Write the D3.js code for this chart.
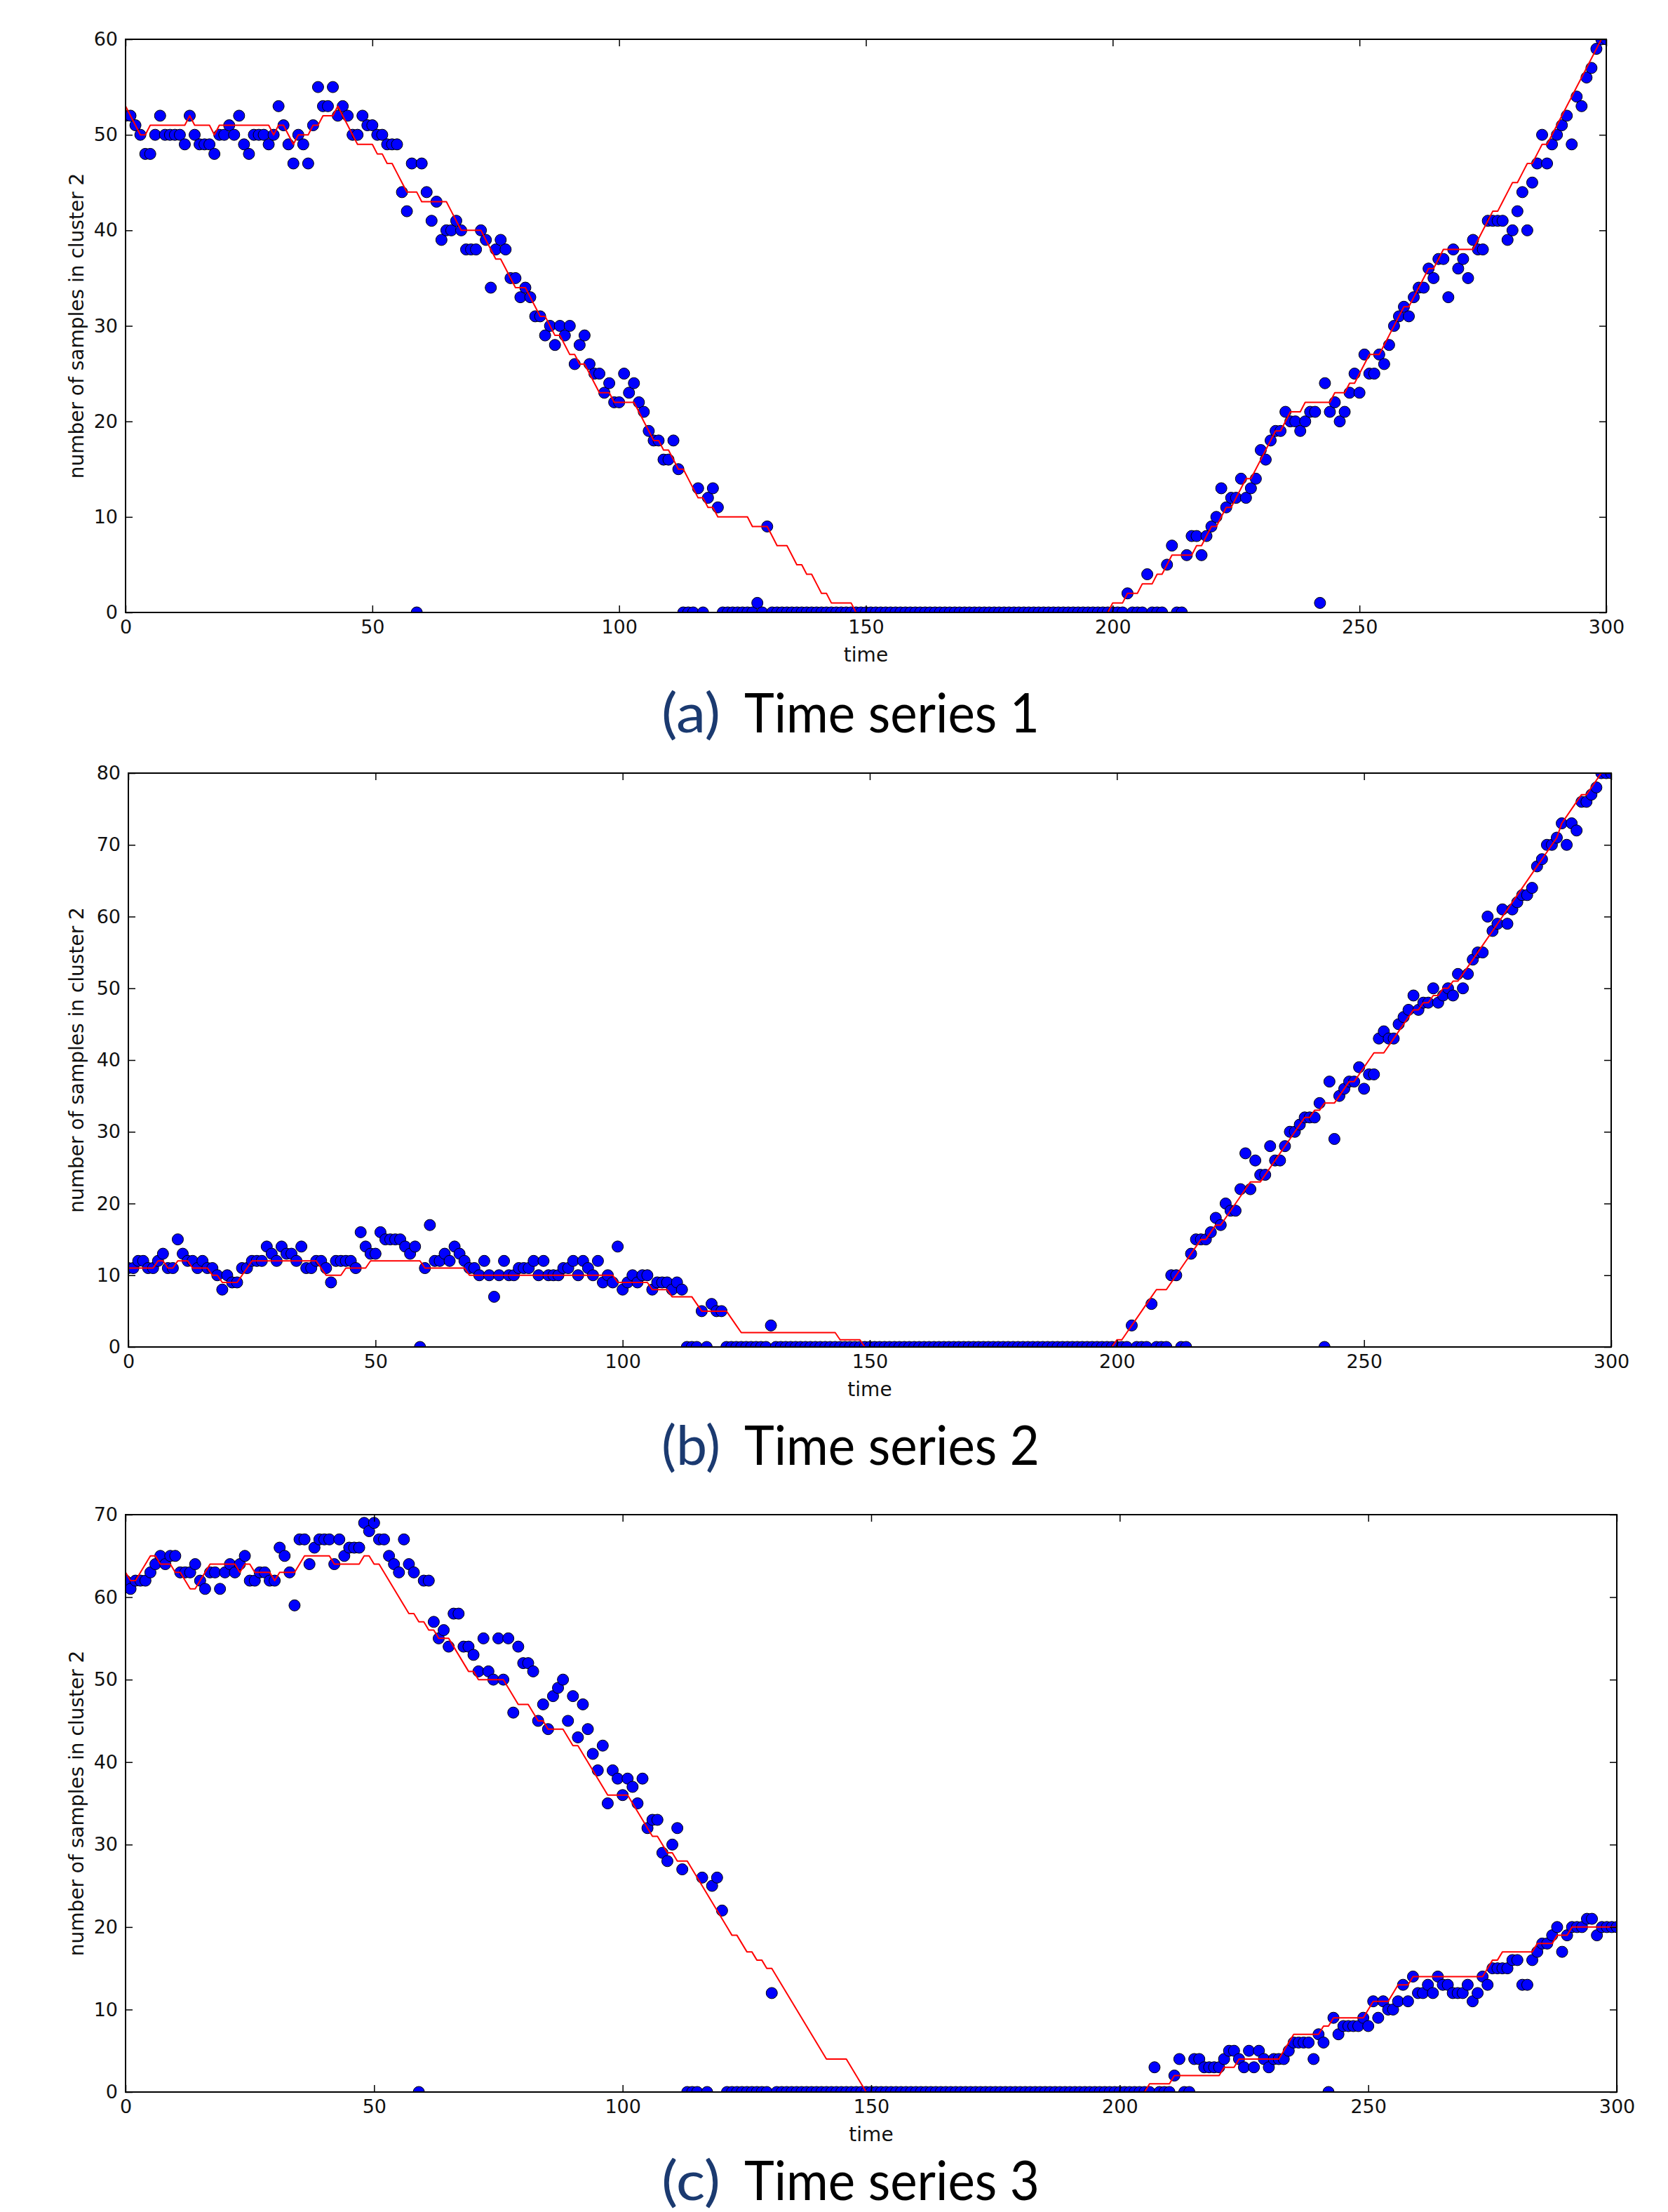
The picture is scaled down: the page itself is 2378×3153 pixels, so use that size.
<!DOCTYPE html>
<html>
<head>
<meta charset="utf-8">
<script src="https://cdnjs.cloudflare.com/ajax/libs/d3/7.8.5/d3.min.js"></script>
<style>
body { margin: 0; background: #fff; }
</style>
</head>
<body>
<div id="chart"></div>
<script>
// number of samples in cluster 2, one value per time step (0..300)
let counts1 = [
  52,52,51,50,48,48,50,52,50,50, 50,50,49,52,50,49,49,49,48,50,
  50,51,50,52,49,48,50,50,50,49, 50,53,51,49,47,50,49,47,51,55,
  53,53,55,52,53,52,50,50,52,51, 51,50,50,49,49,49,44,42,47,0,
  47,44,41,43,39,40,40,41,40,38, 38,38,40,39,34,38,39,38,35,35,
  33,34,33,31,31,29,30,28,30,29, 30,26,28,29,26,25,25,23,24,22,
  22,25,23,24,22,21,19,18,18,16, 16,18,15,0,0,0,13,0,12,13,
  11,0,0,0,0,0,0,0,1,0, 9,0,0,0,0,0,0,0,0,0,
  0,0,0,0,0,0,0,0,0,0, 0,0,0,0,0,0,0,0,0,0,
  0,0,0,0,0,0,0,0,0,0, 0,0,0,0,0,0,0,0,0,0,
  0,0,0,0,0,0,0,0,0,0, 0,0,0,0,0,0,0,0,0,0,
  0,0,0,2,0,0,0,4,0,0, 0,5,7,0,0,6,8,8,6,8,
  9,10,13,11,12,12,14,12,13,14, 17,16,18,19,19,21,20,20,19,20,
  21,21,1,24,21,22,20,21,23,25, 23,27,25,25,27,26,28,30,31,32,
  31,33,34,34,36,35,37,37,33,38, 36,37,35,39,38,38,41,41,41,41,
  39,40,42,44,40,45,47,50,47,49, 50,51,52,49,54,53,56,57,59,60,
  60
];
let smooth1 = [
  53,52,51,50,50,51,51,51,51,51, 51,51,51,52,51,51,51,51,50,51,
  51,51,51,51,51,51,51,51,51,51, 50,51,51,50,49,50,50,50,51,51,
  52,52,52,53,52,51,50,49,49,49, 49,48,48,47,47,46,45,44,44,44,
  43,43,43,43,43,43,42,41,40,40, 40,40,40,39,38,37,37,36,35,34,
  34,34,33,32,31,31,30,29,29,28, 27,27,26,26,25,24,23,23,23,22,
  22,22,22,22,21,20,19,18,18,17, 17,16,15,15,14,13,12,12,11,11,
  10,10,10,10,10,10,10,9,9,9, 9,8,7,7,7,6,5,5,4,4,
  3,2,2,1,1,1,1,1,0,0, 0,0,0,0,0,0,0,0,0,0,
  0,0,0,0,0,0,0,0,0,0, 0,0,0,0,0,0,0,0,0,0,
  0,0,0,0,0,0,0,0,0,0, 0,0,0,0,0,0,0,0,0,0,
  1,1,1,2,2,2,3,3,3,4, 4,5,6,6,6,6,6,7,7,8,
  9,9,10,11,11,12,13,14,14,15, 16,17,18,19,19,20,21,21,21,22,
  22,22,22,22,22,23,23,23,24,24, 25,26,27,27,27,28,29,30,31,32,
  32,33,34,35,36,36,37,38,38,38, 38,38,38,38,39,40,41,42,42,43,
  44,45,45,46,47,47,48,49,49,50, 51,52,53,54,55,56,57,58,59,60,
  60
];

let counts2 = [
  11,11,12,12,11,11,12,13,11,11, 15,13,12,12,11,12,11,11,10,8,
  10,9,9,11,11,12,12,12,14,13, 12,14,13,13,12,14,11,11,12,12,
  11,9,12,12,12,12,11,16,14,13, 13,16,15,15,15,15,14,13,14,0,
  11,17,12,12,13,12,14,13,12,11, 11,10,12,10,7,10,12,10,10,11,
  11,11,12,10,12,10,10,10,11,11, 12,10,12,11,10,12,9,10,9,14,
  8,9,10,9,10,10,8,9,9,9, 8,9,8,0,0,0,5,0,6,5,
  5,0,0,0,0,0,0,0,0,0, 3,0,0,0,0,0,0,0,0,0,
  0,0,0,0,0,0,0,0,0,0, 0,0,0,0,0,0,0,0,0,0,
  0,0,0,0,0,0,0,0,0,0, 0,0,0,0,0,0,0,0,0,0,
  0,0,0,0,0,0,0,0,0,0, 0,0,0,0,0,0,0,0,0,0,
  0,0,0,3,0,0,0,6,0,0, 0,10,10,0,0,13,15,15,15,16,
  18,17,20,19,19,22,27,22,26,24, 24,28,26,26,28,30,30,31,32,32,
  32,34,0,37,29,35,36,37,37,39, 36,38,38,43,44,43,43,45,46,47,
  49,47,48,48,50,48,49,50,49,52, 50,52,54,55,55,60,58,59,61,59,
  61,62,63,63,64,67,68,70,70,71, 73,70,73,72,76,76,77,78,80,80,
  80
];
let smooth2 = [
  11,11,11,11,11,11,12,12,11,11, 12,12,12,11,11,11,11,10,10,9,
  9,9,9,10,11,12,12,12,12,12, 12,12,12,12,12,12,12,12,12,11,
  10,10,10,10,11,11,11,11,11,12, 12,12,12,12,12,12,12,12,12,12,
  11,11,11,11,11,11,11,11,11,10, 10,10,10,10,10,10,10,10,10,10,
  10,10,10,10,10,10,10,10,10,10, 10,10,10,10,10,10,10,10,10,9,
  9,9,9,9,9,9,8,8,8,8, 7,7,7,7,7,6,5,5,5,5,
  5,5,4,3,2,2,2,2,2,2, 2,2,2,2,2,2,2,2,2,2,
  2,2,2,2,1,1,1,1,1,0, 0,0,0,0,0,0,0,0,0,0,
  0,0,0,0,0,0,0,0,0,0, 0,0,0,0,0,0,0,0,0,0,
  0,0,0,0,0,0,0,0,0,0, 0,0,0,0,0,0,0,0,0,0,
  1,1,2,3,4,5,6,7,8,8, 8,9,10,11,12,13,14,15,15,16,
  17,17,18,19,20,21,22,23,23,23, 24,25,26,27,28,29,30,31,32,32,
  33,33,34,34,34,35,36,37,37,38, 39,40,41,41,41,42,43,44,45,46,
  47,47,48,48,49,49,50,50,51,51, 52,53,54,55,56,57,58,59,60,61,
  62,63,64,65,66,67,68,69,70,71, 73,74,75,76,77,77,78,79,80,80,
  80
];

let counts3 = [
  62,61,62,62,62,63,64,65,64,65, 65,63,63,63,64,62,61,63,63,61,
  63,64,63,64,65,62,62,63,63,62, 62,66,65,63,59,67,67,64,66,67,
  67,67,64,67,65,66,66,66,69,68, 69,67,67,65,64,63,67,64,63,0,
  62,62,57,55,56,54,58,58,54,54, 53,51,55,51,50,55,50,55,46,54,
  52,52,51,45,47,44,48,49,50,45, 48,43,47,44,41,39,42,35,39,38,
  36,38,37,35,38,32,33,33,29,28, 30,32,27,0,0,0,26,0,25,26,
  22,0,0,0,0,0,0,0,0,0, 12,0,0,0,0,0,0,0,0,0,
  0,0,0,0,0,0,0,0,0,0, 0,0,0,0,0,0,0,0,0,0,
  0,0,0,0,0,0,0,0,0,0, 0,0,0,0,0,0,0,0,0,0,
  0,0,0,0,0,0,0,0,0,0, 0,0,0,0,0,0,0,0,0,0,
  0,0,0,0,0,0,0,3,0,0, 0,2,4,0,0,4,4,3,3,3,
  3,4,5,5,4,3,5,3,5,4, 3,4,4,4,5,6,6,6,6,4,
  7,6,0,9,7,8,8,8,8,9, 8,11,9,11,10,10,11,13,11,14,
  12,12,13,12,14,13,13,12,12,12, 13,11,12,14,13,15,15,15,15,16,
  16,13,13,16,17,18,18,19,20,17, 19,20,20,20,21,21,19,20,20,20,
  20
];
let smooth3 = [
  63,62,62,63,64,65,65,64,64,64, 63,63,62,61,61,62,63,64,64,64,
  64,64,64,63,64,64,63,63,63,63, 62,63,63,63,63,64,65,65,65,65,
  65,65,64,64,64,64,64,64,65,65, 64,64,63,62,61,60,59,58,58,57,
  57,56,56,55,55,55,54,53,52,51, 51,50,50,50,50,50,50,49,48,47,
  47,47,46,45,45,44,44,44,44,43, 42,42,41,40,39,38,37,36,36,36,
  36,36,35,34,33,32,31,31,30,29, 29,28,28,28,27,26,25,24,23,22,
  21,20,19,19,18,17,17,16,16,15, 15,14,13,12,11,10,9,8,7,6,
  5,4,4,4,4,4,3,2,1,0, 0,0,0,0,0,0,0,0,0,0,
  0,0,0,0,0,0,0,0,0,0, 0,0,0,0,0,0,0,0,0,0,
  0,0,0,0,0,0,0,0,0,0, 0,0,0,0,0,0,0,0,0,0,
  0,0,0,0,0,0,1,1,1,1, 1,2,2,2,2,2,2,2,2,2,
  2,3,3,3,4,4,4,4,4,4, 4,4,4,5,6,7,7,7,7,7,
  7,8,8,9,9,9,9,9,9,9, 10,11,11,11,11,12,13,13,13,14,
  14,14,14,14,14,14,14,14,14,14, 14,14,14,14,15,16,16,17,17,17,
  17,17,17,17,18,18,18,18,19,19, 19,20,20,20,20,20,20,20,20,20,
  20
];

let xTickValues = [0, 50, 100, 150, 200, 250, 300];
let yTicks1 = [0, 10, 20, 30, 40, 50, 60];
let yTicks2 = [0, 10, 20, 30, 40, 50, 60, 70, 80];
let yTicks3 = [0, 10, 20, 30, 40, 50, 60, 70];
let captionLetters = ["(a)", "(b)", "(c)"];
let captionTitles = ["Time series 1", "Time series 2", "Time series 3"];

let svg = d3.select("div#chart")
    .append("svg")
    .attr("width", 2378)
    .attr("height", 3153);

let panels = [
    {counts: counts1, smooth: smooth1, yTicks: yTicks1, left: 179, right: 2290, top: 56, bottom: 873, captionY: 1044},
    {counts: counts2, smooth: smooth2, yTicks: yTicks2, left: 183, right: 2297, top: 1102, bottom: 1920, captionY: 2088},
    {counts: counts3, smooth: smooth3, yTicks: yTicks3, left: 179, right: 2305, top: 2159, bottom: 2982, captionY: 3136}
];

panels.forEach(function(p, i) {
    let x = d3.scaleLinear()
        .domain([0, 300])
        .range([p.left, p.right]);

    let y = d3.scaleLinear()
        .domain([0, d3.max(p.yTicks)])
        .range([p.bottom, p.top]);

    let clipId = "clip" + i;
    svg.append("clipPath")
        .attr("id", clipId)
        .append("rect")
        .attr("x", p.left)
        .attr("y", p.top)
        .attr("width", p.right - p.left)
        .attr("height", p.bottom - p.top);

    let plot = svg.append("g")
        .attr("clip-path", "url(#" + clipId + ")");

    plot.selectAll("circle")
        .data(p.counts)
        .enter()
        .append("circle")
        .attr("cx", function(d, t) { return x(t); })
        .attr("cy", function(d) { return y(d); })
        .attr("r", 8)
        .attr("fill", "#0000ff")
        .attr("stroke", "#000")
        .attr("stroke-width", 1);

    let line = d3.line()
        .x(function(d, t) { return x(t); })
        .y(function(d) { return y(d); });

    plot.append("path")
        .datum(p.smooth)
        .attr("fill", "none")
        .attr("stroke", "#ff0000")
        .attr("stroke-width", 2)
        .attr("stroke-linejoin", "round")
        .attr("d", line);

    // ticks on all four sides, pointing inward
    let gx = svg.append("g")
        .attr("transform", "translate(0," + p.bottom + ")")
        .call(d3.axisBottom(x).tickValues(xTickValues).tickSizeInner(-10).tickSizeOuter(0).tickPadding(11));
    let gy = svg.append("g")
        .attr("transform", "translate(" + p.left + ",0)")
        .call(d3.axisLeft(y).tickValues(p.yTicks).tickSizeInner(-10).tickSizeOuter(0).tickPadding(11));
    let gt = svg.append("g")
        .attr("transform", "translate(0," + p.top + ")")
        .call(d3.axisTop(x).tickValues(xTickValues).tickSizeInner(-10).tickSizeOuter(0).tickFormat(""));
    let gr = svg.append("g")
        .attr("transform", "translate(" + p.right + ",0)")
        .call(d3.axisRight(y).tickValues(p.yTicks).tickSizeInner(-10).tickSizeOuter(0).tickFormat(""));

    [gx, gy, gt, gr].forEach(function(g) {
        g.select(".domain").remove();
        g.selectAll(".tick line").attr("stroke", "#000").attr("stroke-width", 1.5);
        g.selectAll(".tick text")
            .attr("fill", "#111")
            .style("font-family", "'DejaVu Sans', sans-serif")
            .style("font-size", "27px");
    });

    svg.append("rect")
        .attr("x", p.left)
        .attr("y", p.top)
        .attr("width", p.right - p.left)
        .attr("height", p.bottom - p.top)
        .attr("fill", "none")
        .attr("stroke", "#000")
        .attr("stroke-width", 2);

    svg.append("text")
        .attr("x", (p.left + p.right) / 2)
        .attr("y", p.bottom + 70)
        .attr("text-anchor", "middle")
        .attr("fill", "#111")
        .style("font-family", "'DejaVu Sans', sans-serif")
        .style("font-size", "28px")
        .text("time");

    svg.append("text")
        .attr("transform", "translate(119," + ((p.top + p.bottom) / 2) + ") rotate(-90)")
        .attr("text-anchor", "middle")
        .attr("fill", "#111")
        .style("font-family", "'DejaVu Sans', sans-serif")
        .style("font-size", "28px")
        .text("number of samples in cluster 2");

    // sub-figure caption
    svg.append("text")
        .attr("x", 943)
        .attr("y", p.captionY)
        .attr("fill", "#1b3a70")
        .attr("textLength", 84)
        .attr("lengthAdjust", "spacingAndGlyphs")
        .style("font-family", "Lato, sans-serif")
        .style("font-size", "78px")
        .text(captionLetters[i]);

    svg.append("text")
        .attr("x", 1061)
        .attr("y", p.captionY)
        .attr("fill", "#000")
        .attr("textLength", 421)
        .attr("lengthAdjust", "spacingAndGlyphs")
        .style("font-family", "Lato, sans-serif")
        .style("font-size", "78px")
        .text(captionTitles[i]);
});
</script>
</body>
</html>
